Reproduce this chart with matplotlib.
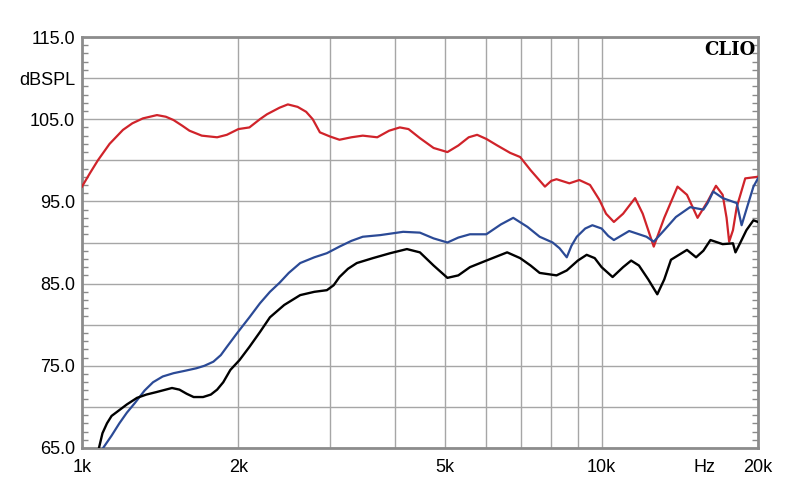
import matplotlib
matplotlib.use("Agg")
import matplotlib.pyplot as plt

# ---- data (Hz, dBSPL) ----
red_f = [1000, 1035, 1073, 1130, 1199, 1250, 1310, 1394, 1450, 1500, 1560, 1610, 1700, 1820, 1900,
         2000, 2100, 2200, 2270, 2400, 2490, 2600, 2700, 2780, 2870, 3000, 3130, 3300, 3470, 3700,
         3900, 4090, 4250, 4470, 4750, 5050, 5300, 5550, 5760, 6000, 6300, 6670, 6970, 7300, 7780,
         8000, 8190, 8670, 9060, 9500, 9900, 10200, 10560, 11000, 11600, 12000, 12600, 13200, 14000,
         14600, 15300, 16000, 16600, 17100, 17400, 17600, 17900, 18200, 18900, 20000]
red_db = [96.8, 98.4, 100.0, 102.0, 103.7, 104.5, 105.1, 105.5, 105.3, 104.9, 104.2, 103.6, 103.0, 102.8, 103.1,
          103.8, 104.0, 105.0, 105.6, 106.4, 106.8, 106.5, 105.9, 105.0, 103.4, 102.9, 102.5, 102.8, 103.0, 102.8,
          103.6, 104.0, 103.8, 102.7, 101.5, 101.0, 101.8, 102.8, 103.1, 102.6, 101.8, 100.9, 100.4, 98.8, 96.8,
          97.5, 97.7, 97.2, 97.6, 97.0, 95.2, 93.5, 92.5, 93.5, 95.4, 93.5, 89.5, 93.0, 96.8,
          95.8, 93.0, 95.0, 96.9, 95.8, 93.0, 90.1, 91.5, 94.3, 97.8, 98.0]

blue_f = [1098, 1140, 1180, 1220, 1265, 1320, 1370, 1430, 1500, 1580, 1660, 1720, 1790, 1850, 1900,
          1990, 2100, 2200, 2300, 2400, 2500, 2630, 2800, 2960, 3130, 3300, 3470, 3750, 4150, 4470,
          4750, 5050, 5300, 5580, 6000, 6400, 6760, 7200, 7600, 8050, 8300, 8570, 8750, 8960, 9300,
          9600, 10000, 10300, 10560, 11300, 12200, 12600, 13200, 13900, 14800, 15700, 16000, 16400,
          17100, 18200, 18600, 19100, 19600, 20000]
blue_db = [65.0, 66.5, 68.0, 69.3, 70.5, 72.0, 73.0, 73.7, 74.1, 74.4, 74.7, 75.0, 75.5, 76.3, 77.3,
           79.0, 80.9, 82.6, 84.0, 85.1, 86.3, 87.5, 88.2, 88.7, 89.5, 90.2, 90.7, 90.9, 91.3, 91.2,
           90.5, 90.0, 90.6, 91.0, 91.0, 92.2, 93.0, 91.9, 90.7, 90.0, 89.3, 88.2, 89.6, 90.7, 91.7,
           92.1, 91.7, 90.8, 90.3, 91.4, 90.7, 90.1, 91.5, 93.1, 94.3, 94.0, 94.8, 96.2,
           95.4, 94.8, 92.1, 94.5, 96.8, 97.8]

black_f = [1078, 1095, 1117, 1140, 1168, 1220, 1276, 1330, 1390, 1490, 1540, 1590, 1640, 1710, 1770,
           1820, 1870, 1930, 2010, 2100, 2200, 2300, 2450, 2630, 2800, 2960, 3050, 3130, 3250, 3380,
           3630, 3920, 4220, 4470, 4750, 5050, 5300, 5580, 6000, 6580, 6970, 7300, 7600, 8190, 8570,
           9000, 9360, 9700, 10000, 10500, 11000, 11400, 11800, 12300, 12800, 13200, 13600, 14600,
           15200, 15700, 16200, 17100, 17900, 18100, 18500, 19000, 19600, 20000]
black_db = [65.0, 66.8, 68.0, 68.9, 69.4, 70.3, 71.1, 71.5, 71.8, 72.3, 72.1, 71.6, 71.2, 71.2, 71.5,
            72.1, 73.0, 74.5, 75.7, 77.3, 79.1, 80.9, 82.4, 83.6, 84.0, 84.2, 84.8, 85.8, 86.8, 87.5,
            88.1, 88.7, 89.2, 88.8, 87.2, 85.7, 86.0, 87.0, 87.8, 88.8, 88.1, 87.2, 86.3, 86.0, 86.6,
            87.8, 88.5, 88.1, 87.0, 85.8, 87.0, 87.8, 87.2, 85.5, 83.7, 85.5, 87.9, 89.1,
            88.2, 89.0, 90.3, 89.8, 89.9, 88.8, 90.0, 91.5, 92.7, 92.5]

x_ticks = [1000, 2000, 5000, 10000, 15800, 20000]
x_labels = ["1k", "2k", "5k", "10k", "Hz", "20k"]
x_grid = [2000, 3000, 4000, 5000, 6000, 7000, 8000, 9000, 10000]
y_ticks = [65, 70, 75, 80, 85, 90, 95, 100, 105, 110, 115]
y_labels = ["65.0", "", "75.0", "", "85.0", "", "95.0", "", "105.0", "dBSPL", "115.0"]

plt.rcParams['font.family'] = ['Liberation Sans', 'DejaVu Sans']

fig = plt.figure(figsize=(8, 5.04), dpi=100)
ax = fig.add_axes([82/800, 56/504, 676/800, 411/504])
ax.set_xscale("log")
ax.set_xlim(1000, 20000)
ax.set_ylim(65, 115)

grid_c = "#a6a6a6"
for y in y_ticks:
    ax.axhline(y, color=grid_c, lw=1.0, zorder=1)
ax.vlines(x_grid, 65, 115, color=grid_c, lw=1.0, zorder=1)

ax.plot(red_f, red_db, color="#d0232a", lw=1.6, zorder=3)
ax.plot(blue_f, blue_db, color="#2b4a96", lw=1.6, zorder=3)
ax.plot(black_f, black_db, color="#000000", lw=1.7, zorder=4)

ax.set_xticks(x_ticks)
ax.set_xticklabels(x_labels)
ax.xaxis.set_minor_locator(matplotlib.ticker.NullLocator())
ax.set_yticks(y_ticks)
ax.set_yticklabels(y_labels)
ax.set_yticks(range(65, 116), minor=True)
ax.tick_params(axis="x", which="major", length=0, pad=8, labelsize=13)
ax.tick_params(axis="y", which="major", length=0, pad=5, labelsize=13)
ax.tick_params(axis="y", which="minor", direction="in", length=4, width=1,
               color="#8a8a8a", left=True, right=True)

for s in ax.spines.values():
    s.set_color("#8c8c8c")
    s.set_linewidth(2)

ax.text(0.996, 0.99, "CLIO", transform=ax.transAxes, ha="right", va="top",
        fontsize=13, fontweight="bold", family=["DejaVu Serif"], zorder=5)

fig.savefig("out.png", dpi=100)
